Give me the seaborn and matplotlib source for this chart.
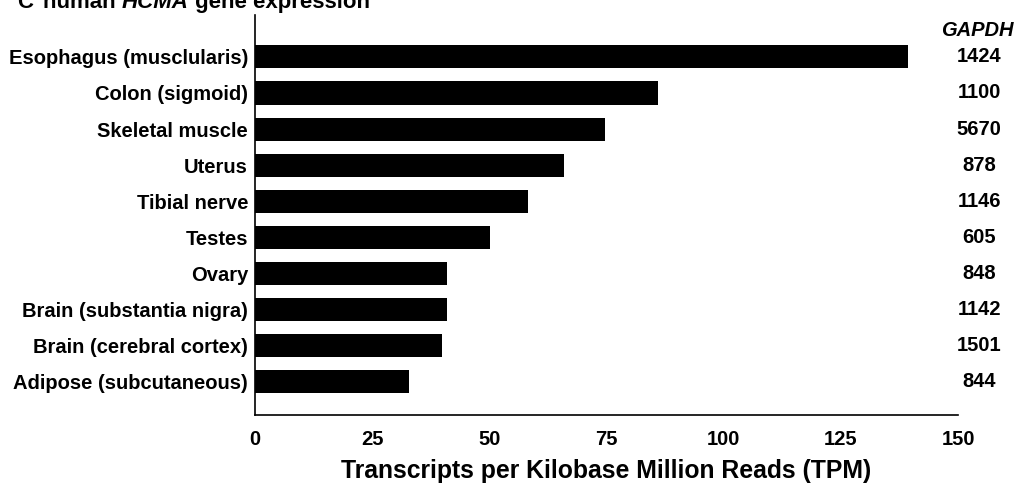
import matplotlib
matplotlib.use("Agg")
import matplotlib.pyplot as plt
import matplotlib.transforms as mtransforms
import seaborn as sns
import pandas as pd

tissues = [
    "Esophagus (musclularis)",
    "Colon (sigmoid)",
    "Skeletal muscle",
    "Uterus",
    "Tibial nerve",
    "Testes",
    "Ovary",
    "Brain (substantia nigra)",
    "Brain (cerebral cortex)",
    "Adipose (subcutaneous)",
]
tpm = [139.3, 86.0, 74.6, 66.0, 58.2, 50.1, 40.9, 40.9, 40.0, 32.8]
gapdh = ["1424", "1100", "5670", "878", "1146", "605", "848", "1142", "1501", "844"]
x_ticks = [0, 25, 50, 75, 100, 125, 150]

df = pd.DataFrame({"tissue": tissues, "tpm": tpm})

sns.set_style("white")
plt.rcParams["font.family"] = ["Liberation Sans", "DejaVu Sans"]
plt.rcParams["font.weight"] = "bold"
plt.rcParams["text.color"] = "black"
plt.rcParams["axes.labelcolor"] = "black"
plt.rcParams["xtick.color"] = "black"
plt.rcParams["ytick.color"] = "black"

FS = 14.5

fig = plt.figure(figsize=(10.21, 4.87), dpi=100)
ax = fig.add_axes([255 / 1021, 1 - 415 / 487, (958 - 255) / 1021, (415 - 15) / 487])

sns.barplot(data=df, x="tpm", y="tissue", color="black", width=0.64,
            saturation=1, ax=ax, edgecolor="black", linewidth=0)

ax.set_xlim(0, 150)
ax.set_ylim(9.92, -1.16)
ax.set_xticks(x_ticks)
ax.set_xticklabels([str(t) for t in x_ticks], fontsize=FS, fontweight="bold")
ax.set_yticks(range(len(tissues)))
ax.set_yticklabels(tissues, fontsize=FS, fontweight="bold")
ax.tick_params(axis="x", direction="out", length=6, width=1.2, color="black", pad=5)
ax.tick_params(axis="y", length=0, pad=5)
ax.set_ylabel("")
ax.set_xlabel("Transcripts per Kilobase Million Reads (TPM)", fontsize=17.8,
              fontweight="bold", labelpad=7)
for side in ["top", "right"]:
    ax.spines[side].set_visible(False)
for side in ["left", "bottom"]:
    ax.spines[side].set_color("black")
    ax.spines[side].set_linewidth(1.2)

# GAPDH reference column on the right
fig.text(977 / 1021, 1 - 30 / 487, "GAPDH", fontsize=FS, fontweight="bold",
         fontstyle="italic", ha="center", va="center")
col_tf = mtransforms.blended_transform_factory(fig.transFigure, ax.transData)
for i, g in enumerate(gapdh):
    ax.text(979 / 1021, i, g, transform=col_tf, fontsize=FS, fontweight="bold",
            ha="center", va="center")

# Panel heading
TFS = 16
base_y = 1 - 8 / 487
fig.text(17 / 1021, base_y, "C", fontsize=TFS, fontweight="bold", ha="left", va="baseline")
t1 = fig.text(43 / 1021, base_y, "human ", fontsize=TFS, fontweight="bold",
              ha="left", va="baseline")
fig.canvas.draw()
bb = t1.get_window_extent()
t2 = fig.text(bb.x1 / fig.bbox.width, base_y, "HCMA", fontsize=TFS, fontweight="bold",
              fontstyle="italic", ha="left", va="baseline")
fig.canvas.draw()
bb2 = t2.get_window_extent()
fig.text(bb2.x1 / fig.bbox.width, base_y, " gene expression", fontsize=TFS,
         fontweight="bold", ha="left", va="baseline")

fig.savefig("out.png", dpi=100)
